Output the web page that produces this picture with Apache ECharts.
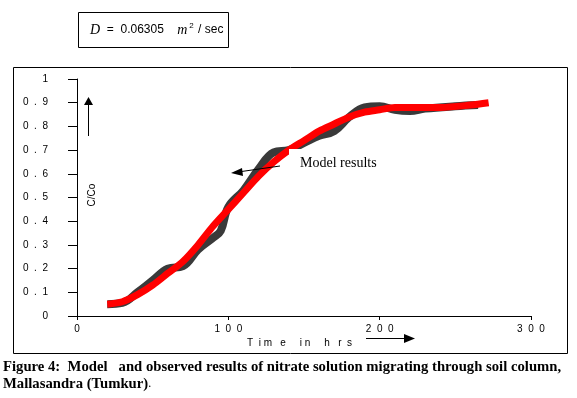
<!DOCTYPE html>
<html>
<head>
<meta charset="utf-8">
<script src="https://cdn.jsdelivr.net/npm/echarts@6/dist/echarts.min.js"></script>
<style>
  html, body { margin: 0; padding: 0; background: #fff; }
  #plotContainer { width: 577px; height: 398px; }
</style>
</head>
<body>
<div id="plotContainer"></div>
<script>
// 数据：时间 (hrs) 与 C/Co
const modelTime = [20, 30, 40, 50, 60, 70, 80, 90, 100, 110, 120, 130, 140, 150, 160, 170, 180, 190, 200, 210, 220, 240, 260, 272];
const modelValue = [0.05, 0.06, 0.09, 0.13, 0.18, 0.23, 0.30, 0.38, 0.45, 0.52, 0.59, 0.65, 0.70, 0.74, 0.78, 0.81, 0.84, 0.86, 0.87, 0.88, 0.88, 0.88, 0.89, 0.90];
const obsTime = [20, 30, 40, 50, 60, 70, 80, 90, 95, 100, 110, 120, 130, 140, 150, 160, 170, 180, 190, 200, 210, 220, 230, 250, 265];
const obsValue = [0.05, 0.055, 0.10, 0.15, 0.20, 0.21, 0.28, 0.33, 0.36, 0.46, 0.53, 0.62, 0.69, 0.70, 0.73, 0.76, 0.78, 0.84, 0.88, 0.885, 0.87, 0.865, 0.875, 0.885, 0.89];
const xTicks = [0, 100, 200, 300];
const yTicks = [0, 0.1, 0.2, 0.3, 0.4, 0.5, 0.6, 0.7, 0.8, 0.9, 1];

const spaced = s => String(s).split('').join('  ');

var chartDom = document.getElementById('plotContainer');
var myChart = echarts.init(chartDom);

const labelFont = { fontFamily: 'Liberation Sans', fontSize: 10, color: '#000' };

const option = {
    animation: false,
    grid: { left: 77, right: 46, top: 79, bottom: 82 },
    xAxis: {
        type: 'value',
        min: xTicks[0], max: xTicks[xTicks.length - 1], interval: 100,
        axisLine: { lineStyle: { color: '#000', width: 1 } },
        axisTick: { show: true, length: 4, lineStyle: { color: '#000' } },
        splitLine: { show: false },
        axisLabel: Object.assign({ margin: 8, formatter: v => spaced(v) }, labelFont)
    },
    yAxis: {
        type: 'value',
        min: yTicks[0], max: yTicks[yTicks.length - 1], interval: 0.1,
        axisLine: { show: true, lineStyle: { color: '#000', width: 1 } },
        axisTick: { show: true, length: 9, lineStyle: { color: '#000' } },
        splitLine: { show: false },
        axisLabel: Object.assign({ margin: 29, formatter: v => spaced(Math.round(v * 10) / 10) }, labelFont)
    },
    series: [
        {
            name: 'observed',
            type: 'line',
            smooth: 0.4,
            showSymbol: false,
            z: 2,
            lineStyle: { color: '#3a3a3a', width: 8 },
            data: obsTime.map((t, i) => [t, obsValue[i]])
        },
        {
            name: 'model',
            type: 'line',
            smooth: 0.3,
            showSymbol: false,
            z: 3,
            lineStyle: { color: '#ff0000', width: 7 },
            data: modelTime.map((t, i) => [t, modelValue[i]])
        }
    ],
    graphic: [
        // outer frame
        { type: 'rect', z: 0, shape: { x: 13.5, y: 67.5, width: 554, height: 286 }, style: { fill: 'none', stroke: '#000', lineWidth: 1 } },
        // equation box
        { type: 'rect', z: 10, shape: { x: 78.5, y: 12.5, width: 150, height: 35 }, style: { fill: '#fff', stroke: '#000', lineWidth: 1 } },
        {
            type: 'text', z: 11, x: 90, y: 30,
            style: {
                text: '{it|D}  =  0.06305    {it|m}{sup|2} / sec',
                verticalAlign: 'middle',
                fontFamily: 'Liberation Sans', fontSize: 12, fill: '#000',
                rich: {
                    it: { fontFamily: 'Liberation Serif', fontStyle: 'italic', fontSize: 14 },
                    sup: { fontSize: 8, verticalAlign: 'top', padding: [0, 1, 9, 2] }
                }
            }
        },
        // white text box for model label
        { type: 'rect', z: 10, shape: { x: 289, y: 149, width: 110, height: 32 }, style: { fill: '#fff' } },
        { type: 'text', z: 11, x: 300, y: 163, style: { text: 'Model results', fontFamily: 'Liberation Serif', fontSize: 14, fill: '#000', verticalAlign: 'middle' } },
        // arrow to model curve
        { type: 'line', z: 11, shape: { x1: 280, y1: 166, x2: 238, y2: 172 }, style: { stroke: '#000', lineWidth: 1 } },
        { type: 'polygon', z: 11, shape: { points: [[231, 173], [242, 168], [243, 176]] }, style: { fill: '#000' } },
        // y name
        { type: 'text', z: 11, x: 92, y: 195, rotation: Math.PI / 2, style: { text: 'C/Co', fontFamily: 'Liberation Sans', fontSize: 10, fill: '#000', align: 'center', verticalAlign: 'middle' } },
        { type: 'line', z: 11, shape: { x1: 88.5, y1: 136, x2: 88.5, y2: 104 }, style: { stroke: '#000', lineWidth: 1 } },
        { type: 'polygon', z: 11, shape: { points: [[88.5, 97], [84, 105], [93, 105]] }, style: { fill: '#000' } },
        // x name
        { type: 'text', z: 11, x: 247, y: 343, style: { text: 'T  i m   e     i n     h   r  s', fontFamily: 'Liberation Sans', fontSize: 10, fill: '#000', verticalAlign: 'middle' } },
        { type: 'line', z: 11, shape: { x1: 366, y1: 338.5, x2: 406, y2: 338.5 }, style: { stroke: '#000', lineWidth: 1 } },
        { type: 'polygon', z: 11, shape: { points: [[415, 338.5], [404, 334], [404, 343]] }, style: { fill: '#000' } },
        // caption
        { type: 'text', z: 11, x: 3, y: 367, style: { text: 'Figure 4:  Model   and observed results of nitrate solution migrating through soil column,', fontFamily: 'Liberation Serif', fontWeight: 'bold', fontSize: 14.7, fill: '#000', verticalAlign: 'middle' } },
        { type: 'text', z: 11, x: 3, y: 384, style: { text: '{b|Mallasandra (Tumkur)}.', fontFamily: 'Liberation Serif', fontSize: 12, fill: '#000', verticalAlign: 'middle', rich: { b: { fontFamily: 'Liberation Serif', fontWeight: 'bold', fontSize: 14.7 } } } }
    ]
};
option && myChart.setOption(option);
window.onresize = () => {
    myChart.resize();
};
</script>
</body>
</html>
